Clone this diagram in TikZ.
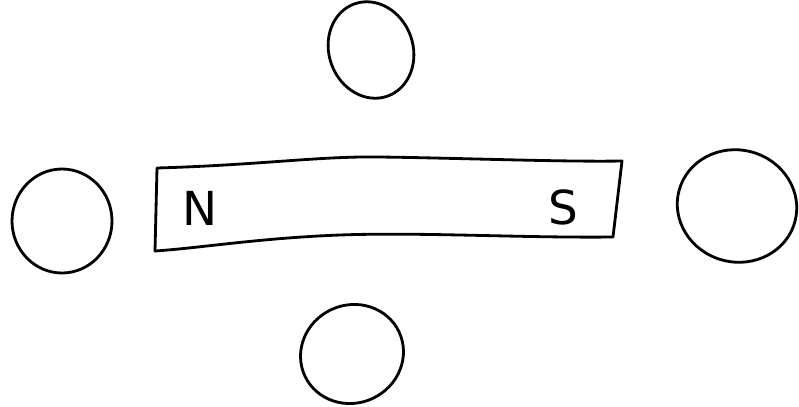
\documentclass[tikz,border=0pt]{standalone}
\usepackage{fontspec}
\setsansfont{DejaVu Sans}
\usetikzlibrary{positioning}

\begin{document}
\begin{tikzpicture}[x=0.03cm, y=-0.03cm,
      ink/.style={draw, line width=2.4pt, line cap=round, line join=round},
      pole/.style={font=\fontsize{40}{40}\sffamily, inner sep=0pt}]
    \useasboundingbox (0,0) rectangle (799,406);
    % magnet
    \draw[ink] (157,168) .. controls (260,165) and (320,156) .. (380,157)
      .. controls (460,158) and (560,162) .. (622,161)
      -- (613,237) .. controls (520,238) and (420,232) .. (340,235)
      .. controls (260,238) and (200,248) .. (155,251) -- cycle;
    \node[pole] (n) at (200,208) {N};
    \node[pole] (s) at (563,207) {S};
    % compasses
    \draw[ink, rotate around={20:(371,50)}] (371,50) ellipse [x radius=42, y radius=49];
    \draw[ink] (62,221) ellipse [x radius=50, y radius=52];
    \draw[ink, rotate around={-15:(737,206)}] (737,206) ellipse [x radius=60, y radius=56];
    \draw[ink, rotate around={25:(352,354)}] (352,354) ellipse [x radius=52, y radius=49];
  \end{tikzpicture}
\end{document}
